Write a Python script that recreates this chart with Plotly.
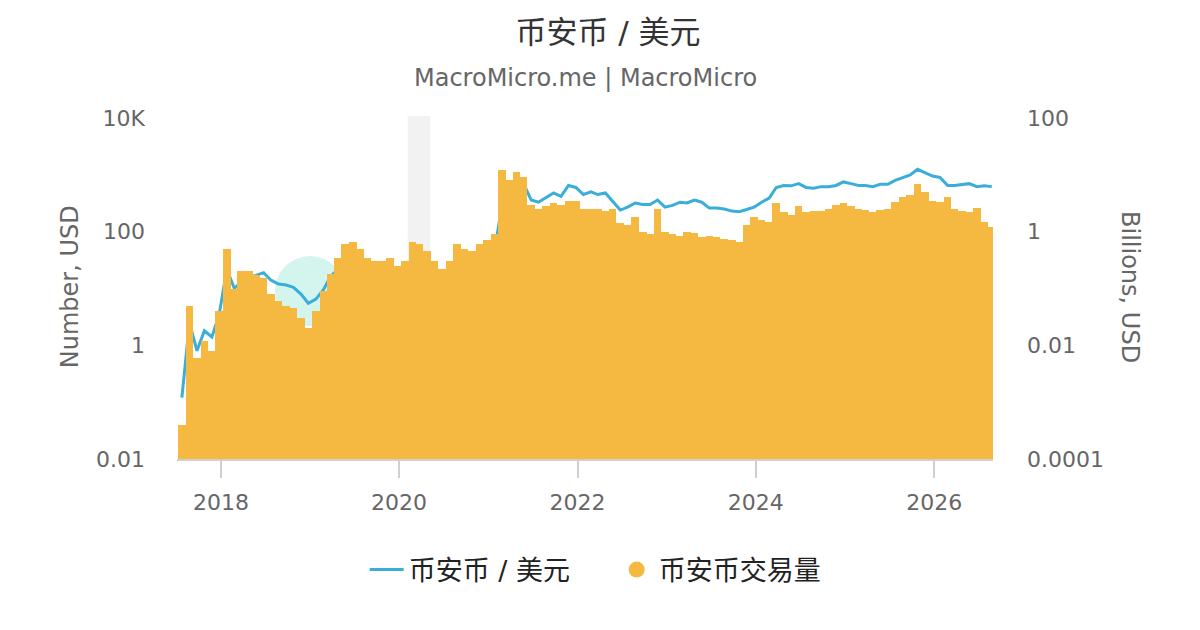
import pandas as pd
import plotly.graph_objects as go

# monthly readings, 25th of each month, Jul 2017 - Aug 2026
dates = pd.date_range("2017-07-01", "2026-08-01", freq="MS") + pd.Timedelta(days=24)

# BNB / USD price
price = [
    0.12, 2.5, 0.8, 1.8, 1.4, 3.5,
    22, 10, 13, 16, 17, 19, 14, 12, 11.5, 10.5, 8, 5.5,
    6.5, 9.5, 16, 22, 30, 40, 35, 30, 25, 16, 19, 15,
    15, 22, 11, 15, 17, 16.5, 18, 24, 28, 30, 30, 35,
    45, 280, 300, 450, 700, 360, 330, 400, 480, 420, 650, 600,
    450, 500, 450, 480, 340, 240, 270, 320, 300, 300, 360, 270,
    290, 330, 320, 360, 330, 260, 260, 250, 230, 225, 245, 270,
    330, 390, 600, 650, 640, 700, 600, 580, 620, 620, 650, 750,
    700, 650, 650, 620, 680, 680, 800, 900, 1000, 1250, 1100, 950,
    900, 650, 650, 680, 700, 620, 640, 620,
]

# trading volume, billions USD
volume = [
    0.0004, 0.05, 0.006, 0.012, 0.008, 0.04,
    0.5, 0.1, 0.2, 0.2, 0.17, 0.15, 0.08, 0.06, 0.05, 0.045, 0.03, 0.02,
    0.04, 0.09, 0.18, 0.35, 0.6, 0.65, 0.5, 0.35, 0.3, 0.3, 0.35, 0.25,
    0.3, 0.65, 0.6, 0.45, 0.3, 0.22, 0.3, 0.6, 0.5, 0.45, 0.6, 0.7,
    0.9, 12, 8, 11, 9, 3, 2.5, 2.8, 3.2, 3, 3.5, 3.5,
    2.5, 2.5, 2.5, 2.3, 2.5, 1.4, 1.3, 1.8, 1.0, 0.9, 2.5, 1.0,
    0.9, 0.85, 1.0, 0.95, 0.8, 0.85, 0.8, 0.75, 0.7, 0.65, 1.3, 1.8,
    1.6, 1.5, 3.2, 2.2, 2.0, 2.8, 2.2, 2.3, 2.3, 2.5, 3.0, 3.2,
    2.8, 2.5, 2.4, 2.2, 2.4, 2.5, 3.3, 4, 4.5, 7, 5, 3.5,
    3.3, 4, 2.5, 2.3, 2.2, 2.6, 1.5, 1.2,
]

left_vals = [0.01, 1, 100, 10000]
left_text = ["0.01", "1", "100", "10K"]
right_vals = [0.0001, 0.01, 1, 100]
right_text = ["0.0001", "0.01", "1", "100"]
year_ticks = ["2018-01-01", "2020-01-01", "2022-01-01", "2024-01-01", "2026-01-01"]
year_text = ["2018", "2020", "2022", "2024", "2026"]
recession = ("2020-02-05", "2020-05-07")

FONT = "DejaVu Sans, Noto Sans CJK SC, sans-serif"
BLUE = "#3aaed8"
ORANGE = "#f5b942"

fig = go.Figure()

fig.add_trace(go.Bar(
    x=dates, y=volume, yaxis="y2", name="币安币交易量",
    marker=dict(color=ORANGE, line=dict(width=0)),
    width=31 * 24 * 3600 * 1000, showlegend=False,
))
fig.add_trace(go.Scatter(
    x=dates, y=price, yaxis="y", name="币安币 / 美元", mode="lines",
    line=dict(color=BLUE, width=3),
))
# legend entry with a round marker, like the original
fig.add_trace(go.Scatter(
    x=[None], y=[None], yaxis="y2", mode="markers", name="币安币交易量",
    marker=dict(color=ORANGE, size=27, symbol="circle"),
))

fig.add_shape(type="rect", xref="x", yref="paper",
              x0=recession[0], x1=recession[1], y0=0, y1=1.006,
              fillcolor="#f2f2f2", line_width=0, layer="below")
# watermark
fig.add_shape(type="circle", xref="paper", yref="paper",
              x0=0.12, x1=0.206, y0=0.39, y1=0.595,
              fillcolor="#d3f5ee", line_width=0, layer="below")

fig.update_layout(
    width=1200, height=630,
    paper_bgcolor="white", plot_bgcolor="rgba(0,0,0,0)",
    margin=dict(l=169, r=215, t=110, b=179),
    font=dict(family=FONT, color="#666", size=22),
    title=dict(text="币安币 / 美元", x=0.5, xanchor="center",
               y=1 - 24 / 630, yanchor="middle",
               font=dict(size=31, color="#333")),
    bargap=0,
    showlegend=True,
    legend=dict(orientation="h", x=0.23, xanchor="left", y=-0.3255,
                yanchor="middle", font=dict(size=27, color="#222"),
                itemwidth=34, tracegroupgap=0, entrywidth=201),
    xaxis=dict(
        type="date", range=["2017-07-05", "2026-08-30"],
        tickvals=year_ticks, ticktext=year_text,
        showgrid=False, showline=True, linecolor="#d0d0d0", linewidth=2,
        ticks="outside", ticklen=17, tickwidth=2, tickcolor="#d0d0d0",
        ticklabelstandoff=6, zeroline=False,
    ),
    yaxis=dict(
        type="log", range=[-2, 4], tickvals=left_vals, ticktext=left_text,
        showgrid=False, zeroline=False, showline=False, ticklabelstandoff=31,
    ),
    yaxis2=dict(
        type="log", range=[-4, 2], tickvals=right_vals, ticktext=right_text,
        overlaying="y", side="right", showgrid=False, zeroline=False,
        showline=False, ticklabelstandoff=33,
    ),
    annotations=[
        dict(text="MacroMicro.me | MacroMicro", xref="paper", yref="paper",
             x=0.5, y=1.117, yanchor="middle", showarrow=False,
             font=dict(size=24, color="#666")),
        dict(text="Number, USD", xref="paper", yref="paper", x=-0.131, y=0.504,
             xanchor="center", yanchor="middle",
             textangle=-90, showarrow=False, font=dict(size=24, color="#666")),
        dict(text="Billions, USD", xref="paper", yref="paper", x=1.168, y=0.504,
             xanchor="center", yanchor="middle",
             textangle=90, showarrow=False, font=dict(size=24, color="#666")),
    ],
)

fig.write_html("out.html")
